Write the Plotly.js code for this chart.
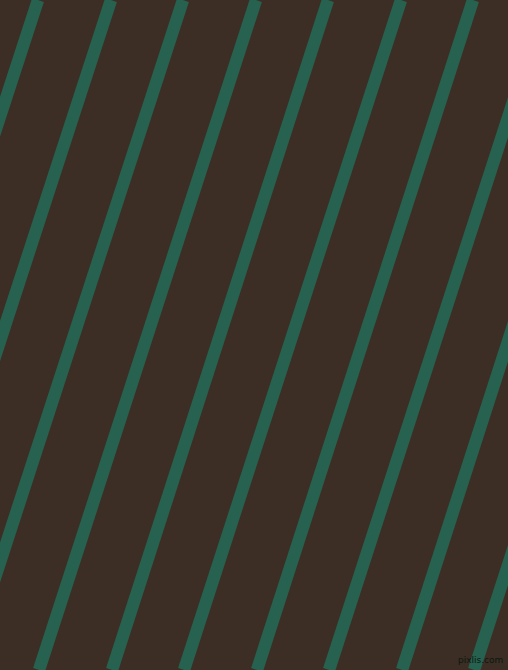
<!DOCTYPE html>
<html>
<head>
<meta charset="utf-8">
<script src="https://cdn.plot.ly/plotly-3.0.1.min.js"></script>
<style>html,body{margin:0;padding:0;background:#3c2e24;overflow:hidden}#chart{width:508px;height:670px}</style>
</head>
<body>
<div id="chart"></div>
<script>
// stripe positions where each stripe crosses the top edge (px), and where it crosses the bottom edge
const stripeTopX = [38, 111, 183, 256, 328, 401, 473, 546, 618, 691];
const stripeBottomX = [-180, -107, -35, 39, 112, 184, 257, 329, 402, 474];
const watermark = "pixlis.com";

const traces = stripeTopX.map((t, i) => ({
  type: 'scatter', mode: 'lines',
  x: [t, stripeBottomX[i]], y: [0, 670],
  line: {color: '#26624f', width: 12.4},
  hoverinfo: 'skip', showlegend: false
}));

const layout = {
  width: 508, height: 670,
  margin: {l: 0, r: 0, t: 0, b: 0, pad: 0},
  paper_bgcolor: '#3c2e24', plot_bgcolor: '#3c2e24',
  xaxis: {range: [0, 508], visible: false, fixedrange: true},
  yaxis: {range: [670, 0], visible: false, fixedrange: true},
  annotations: [{
    text: watermark, x: 1, y: 0, xref: 'paper', yref: 'paper',
    xanchor: 'right', yanchor: 'bottom', xshift: -3, yshift: 3, showarrow: false,
    font: {family: 'DejaVu Sans', size: 9, color: '#0c1712'}
  }]
};
Plotly.newPlot('chart', traces, layout, {staticPlot: true, displayModeBar: false});
</script>
</body>
</html>
